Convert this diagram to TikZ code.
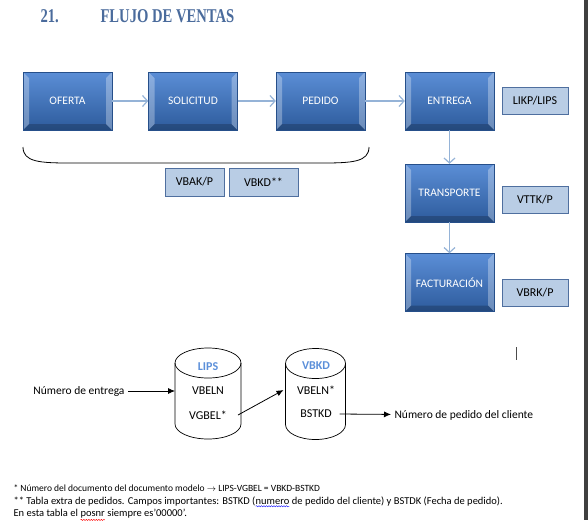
\documentclass[tikz,border=0pt]{standalone}
\usepackage{fontspec}
\setmainfont{Carlito}
\newfontfamily\titlefont[FakeStretch=0.75]{Liberation Serif}
\usetikzlibrary{arrows.meta,decorations.pathmorphing}
\definecolor{boxtop}{HTML}{5B8ED6}
\definecolor{boxbot}{HTML}{2D5B9C}
\definecolor{boxedge}{HTML}{264F8A}
\definecolor{tabfill}{HTML}{B9CDE5}
\definecolor{tabedge}{HTML}{4F6F9F}
\definecolor{flowblue}{HTML}{95B3D7}
\definecolor{titleblue}{HTML}{4A6B9C}
\definecolor{dbblue}{HTML}{5B8FD9}
\newcommand\wavyword[2]{\tikz[baseline=(w.base)]{\node[inner sep=0pt,outer sep=0pt,anchor=base] (w) at (0,0) {#2};
	\draw[#1,line width=.4pt,decorate,decoration={snake,amplitude=.6pt,segment length=2.5pt}]
		([yshift=-1.5pt]w.south west) -- ([yshift=-1.5pt]w.south east);}}
% contorno de tabla (cilindro) sobre un nodo invisible
\newcommand\dbcyl[2]{%
	\draw [line width=.7pt] ([yshift=-15pt]#1.north west) -- ([yshift=15pt]#1.south west)
		arc [start angle=180,end angle=360,x radius=#2,y radius=15pt] -- ([yshift=-15pt]#1.north east);
	\draw [line width=.7pt] ([yshift=-15pt]#1.north) ellipse [x radius=#2,y radius=15pt];}
\tikzset{
	procbox/.style={rectangle,minimum width=89pt,minimum height=58pt,
		top color=boxtop,bottom color=boxbot,draw=boxedge,text=white,
		font=\fontsize{11.5}{13}\selectfont,
		path picture={
			\fill[white,opacity=.3] (path picture bounding box.north west) -- ++(6pt,-6pt)
				-- ([shift={(6pt,6pt)}]path picture bounding box.south west) -- (path picture bounding box.south west) -- cycle;
			\fill[white,opacity=.3] (path picture bounding box.north east) -- ++(-6pt,-6pt)
				-- ([shift={(-6pt,6pt)}]path picture bounding box.south east) -- (path picture bounding box.south east) -- cycle;
			\fill[black,opacity=.2] (path picture bounding box.south west) -- ++(6pt,6pt)
				-- ([shift={(-6pt,6pt)}]path picture bounding box.south east) -- (path picture bounding box.south east) -- cycle;
		}},
	tabbox/.style={rectangle,fill=tabfill,draw=tabedge,minimum height=27pt,
		font=\fontsize{12}{14}\selectfont},
	flow/.style={flowblue,line width=1.2pt,-{Straight Barb[length=5pt,width=11pt]}},
	db/.style={rectangle,inner sep=0pt,outer sep=0pt,minimum width=#1,minimum height=91pt},
	dbtext/.style={font=\fontsize{12}{14}\selectfont},
	note/.style={anchor=west,font=\fontsize{10.5}{12}\selectfont},
	link/.style={-{Latex[length=7pt,width=6pt]},line width=.8pt}
}

\begin{document}
\begin{tikzpicture}[x=1pt,y=-1pt]
	\useasboundingbox (0,0) rectangle (588,520);
	\fill[black!75] (584,0) rectangle (588,520);

	\node [anchor=west,text=titleblue,font=\titlefont\bfseries\fontsize{19.5}{22}\selectfont] (num) at (37,16) {21.};
	\node [anchor=west,text=titleblue,font=\titlefont\bfseries\fontsize{19.5}{22}\selectfont] (title) at (97,16) {FLUJO DE VENTAS};

	\node [procbox] (oferta) at (67.5,101) {OFERTA};
	\node [procbox] (solicitud) at (193,101) {SOLICITUD};
	\node [procbox] (pedido) at (320.5,101) {PEDIDO};
	\node [procbox] (entrega) at (449.5,101) {ENTREGA};
	\node [procbox] (transporte) at (449.5,193) {TRANSPORTE};
	\node [procbox] (facturacion) at (449.5,282.5) {FACTURACIÓN};

	\node [tabbox,minimum width=66pt] (likp) at (535,100.5) {LIKP/LIPS};
	\node [tabbox,minimum width=66pt] (vttk) at (535,200) {VTTK/P};
	\node [tabbox,minimum width=66pt] (vbrk) at (535,292.5) {VBRK/P};
	\node [tabbox,minimum width=59pt,minimum height=28pt] (vbak) at (194.5,182) {VBAK/P};
	\node [tabbox,minimum width=69pt,minimum height=28pt] (vbkd) at (263.5,182) {VBKD**};

	\draw [flow] (oferta) -- (solicitud);
	\draw [flow] (solicitud) -- (pedido);
	\draw [flow] (pedido) -- (entrega);
	\draw [flow] (entrega) -- (transporte);
	\draw [flow] (transporte) -- (facturacion);

	% llave bajo los documentos de venta
	\draw [line width=.8pt] (23,147) .. controls (23,162) and (40,163) .. (70,163) -- (322,163)
		.. controls (352,163) and (369,162) .. (369,147);

	\node [db=66pt] (lips) at (208,393.5) {};
	\node [db=60pt] (vbkdtab) at (315.5,394) {};
	\dbcyl{lips}{33pt}
	\dbcyl{vbkdtab}{30pt}
	\node [dbtext,text=dbblue,font=\fontsize{12}{14}\selectfont\bfseries] (lipsname) at (208,367) {LIPS};
	\node [dbtext] (vbeln) at (208,391) {VBELN};
	\node [dbtext] (vgbel) at (208,415) {VGBEL*};
	\node [dbtext,text=dbblue,font=\fontsize{12}{14}\selectfont\bfseries] (vbkdname) at (316,366) {VBKD};
	\node [dbtext] (vbelnb) at (316,390) {VBELN*};
	\node [dbtext] (bstkd) at (316,414) {BSTKD};

	\node [dbtext,anchor=east,font=\fontsize{11.5}{13}\selectfont] (numentrega) at (128,391) {Número de entrega};
	\node [dbtext,anchor=west,font=\fontsize{11.5}{13}\selectfont] (numpedido) at (391,415) {Número de pedido del cliente};
	\draw [link] (numentrega) -- (lips.west |- numentrega);
	\draw [link] ([xshift=-3pt]lips.east |- vgbel) -- ([xshift=-2pt]vbkdtab.west |- vbelnb);
	\draw [link] ([xshift=-6pt]vbkdtab.east |- bstkd) -- (numpedido);

	\draw [black!70,line width=.8pt] (516,347) -- (516,360);

	\node [note,font=\fontsize{9.5}{12}\selectfont] (nota1) at (10,488)
		{* Número del documento del documento modelo \(\rightarrow\) LIPS-VGBEL = VBKD-BSTKD};
	\node [note] (nota2) at (10,502)
		{** Tabla extra de pedidos. Campos importantes: BSTKD (\wavyword{blue}{numero} de pedido del cliente) y BSTDK (Fecha de pedido).};
	\node [note] (nota3) at (10,515)
		{En esta tabla el \wavyword{red}{posnr} siempre es’00000’.};
\end{tikzpicture}
\end{document}
